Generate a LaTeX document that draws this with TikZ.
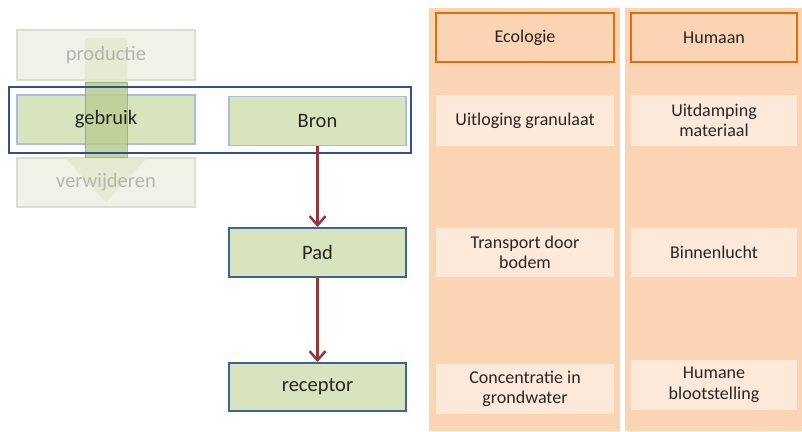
\documentclass[tikz,border=0pt]{standalone}
\usepackage{fontspec}
\setmainfont{Carlito}
\usetikzlibrary{arrows.meta}
\definecolor{gfill}{HTML}{D7E4BD}
\definecolor{gline}{HTML}{A7BFDF}
\definecolor{bline}{HTML}{3E649A}
\definecolor{frameblue}{HTML}{2F528F}
\definecolor{fadefill}{HTML}{EFF2E6}
\definecolor{fadeline}{HTML}{DCDFD0}
\definecolor{fadetext}{HTML}{B5B5B5}
\definecolor{arrowfade}{HTML}{E2EACD}
\definecolor{arrred}{HTML}{953735}
\definecolor{peach}{HTML}{FBD4B4}
\definecolor{peachlight}{HTML}{FDE9D9}
\definecolor{orangeline}{HTML}{E46C0A}
\definecolor{shaftfill}{HTML}{B9CC8E}
\definecolor{shaftline}{HTML}{7F9A55}
\begin{document}
\begin{tikzpicture}[x=1pt,y=-1pt,
  lbox/.style={minimum width=177pt,minimum height=49pt,inner sep=0pt,font=\fontsize{20.5}{24}\selectfont,text=black!85},
  softbox/.style={lbox,fill=gfill,draw=gline,line width=1.2pt},
  hardbox/.style={lbox,fill=gfill,draw=bline,line width=2pt},
  fadebox/.style={lbox,fill=fadefill,draw=fadeline,line width=1.2pt},
  colbox/.style={minimum height=51pt,inner sep=0pt,align=center,font=\fontsize{18}{20.5}\selectfont,fill=peachlight,text=black!85},
  headbox/.style={minimum height=49pt,inner sep=0pt,font=\fontsize{18}{20.5}\selectfont,fill=peach,draw=orangeline,line width=1.5pt,text=black!85},
  flow/.style={draw=arrred,line width=2.5pt,-{Straight Barb[length=9pt,width=16pt]}}
]
\useasboundingbox (0,0) rectangle (802,431);
% right columns
\fill[peach] (429,8) rectangle (620,431);
\fill[peach] (625,8) rectangle (802,431);
\node[headbox,minimum width=178pt] (eco) at (525,37.5) {Ecologie};
\node[headbox,minimum width=166pt] (hum) at (714,37.5) {Humaan};
\node[colbox,minimum width=178pt] (uitl) at (525,120.5) {Uitloging granulaat};
\node[colbox,minimum width=166pt] (uitd) at (714,120.5) {Uitdamping\\materiaal};
\node[colbox,minimum width=178pt,minimum height=49pt] (trans) at (525,252.5) {Transport door\\bodem};
\node[colbox,minimum width=166pt,minimum height=49pt] (binn) at (714,252.5) {Binnenlucht};
\node[colbox,minimum width=178pt,minimum height=50pt] (conc) at (525,389) {Concentratie in\\grondwater};
\node[colbox,minimum width=166pt,minimum height=50pt] (humb) at (714,385) {Humane\\blootstelling};
% left faded lifecycle
\node[fadebox,minimum width=178pt,minimum height=50pt] (prod) at (106,55) {};
\node[fadebox,minimum width=178pt] (verw) at (106,182.5) {};
\fill[arrowfade,opacity=0.8] (85,38) -- (127,38) -- (127,158) -- (147,158) -- (106,202) -- (65,158) -- (85,158) -- cycle;
\node[lbox,text=fadetext] (prodtext) at (prod.center) {productie};
\node[lbox,text=fadetext] (verwtext) at (verw.center) {verwijderen};
% gebruik box, drawn as shape then text on top of arrow shaft
\node[softbox,minimum width=178pt] (gebr) at (106,119.5) {};
\filldraw[fill=shaftfill,draw=shaftline,draw opacity=0.6,fill opacity=0.75,line width=0.8pt] (85,82) rectangle (127,157);
\node[lbox] (gebrtext) at (gebr.center) {gebruik};
\node[softbox] (bron) at (317.5,121) {Bron};
\draw[frameblue,line width=2pt] (9,87) rectangle (411,153);
% source-pathway-receptor
\node[hardbox] (pad) at (317.5,252.5) {Pad};
\node[hardbox,minimum height=48pt] (rec) at (317.5,387) {receptor};
\draw[flow] (bron.south) -- (pad.north);
\draw[flow] (pad.south) -- (rec.north);
\end{tikzpicture}
\end{document}
